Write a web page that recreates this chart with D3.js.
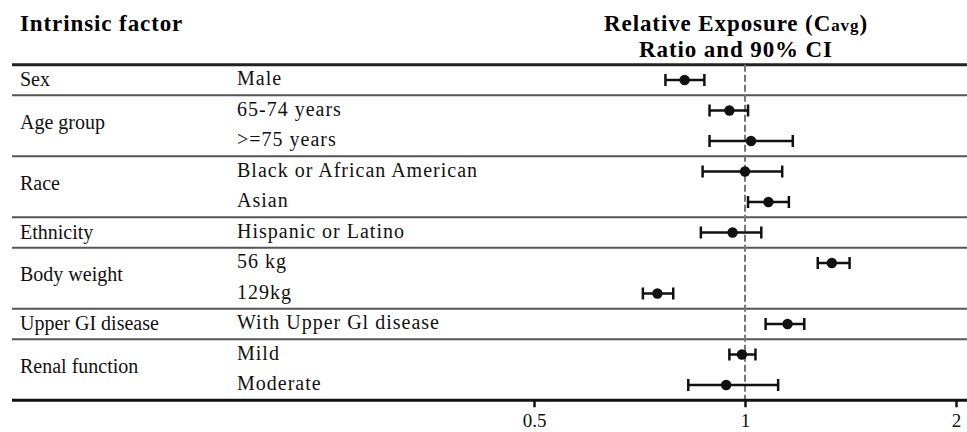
<!DOCTYPE html>
<html>
<head>
<meta charset="utf-8">
<script src="https://cdn.jsdelivr.net/npm/d3@7"></script>
<style>
  body { margin: 0; background: #fff; }
  svg { display: block; font-family: "Liberation Serif", "Times New Roman", serif; }
</style>
</head>
<body>
<svg id="chart" width="967" height="432"></svg>
<script>
// groups and their sub-rows
const groups = ["Sex", "Age group", "Race", "Ethnicity", "Body weight", "Upper GI disease", "Renal function"]
const groupOf = [0, 1, 1, 2, 2, 3, 4, 4, 5, 6, 6]
const subgroups = ["Male", "65-74 years", ">=75 years", "Black or African American", "Asian",
  "Hispanic or Latino", "56 kg", "129kg", "With Upper Gl disease", "Mild", "Moderate"]
// ratio and 90% CI
const ratio = [0.82, 0.95, 1.02, 1.00, 1.08, 0.96, 1.33, 0.75, 1.15, 0.99, 0.94]
const lower = [0.77, 0.89, 0.89, 0.87, 1.01, 0.865, 1.27, 0.715, 1.07, 0.95, 0.83]
const upper = [0.875, 1.01, 1.17, 1.13, 1.155, 1.055, 1.41, 0.79, 1.215, 1.035, 1.115]
const ticks = [0.5, 1, 2]

const svg = d3.select("#chart")

const x = d3.scaleLog().domain([0.5, 2]).range([534, 956])
const y = d3.scaleBand().domain(d3.range(subgroups.length)).range([64.75, 400.25])
const mid = i => y(i) + y.bandwidth() / 2

// header
svg.append("text").attr("x", 20).attr("y", 31)
  .attr("font-weight", "bold").attr("font-size", 23).attr("letter-spacing", 0.9)
  .text("Intrinsic factor")
const h1 = svg.append("text").attr("x", 736).attr("y", 31).attr("text-anchor", "middle")
  .attr("font-weight", "bold").attr("font-size", 23).attr("letter-spacing", 0.9)
h1.append("tspan").text("Relative Exposure (C")
h1.append("tspan").attr("font-size", 17).text("avg")
h1.append("tspan").text(")")
svg.append("text").attr("x", 736).attr("y", 57).attr("text-anchor", "middle")
  .attr("font-weight", "bold").attr("font-size", 23).attr("letter-spacing", 0.9)
  .text("Ratio and 90% CI")

// top rule
svg.append("line").attr("x1", 12).attr("x2", 967).attr("y1", y(0)).attr("y2", y(0))
  .attr("stroke", "#222").attr("stroke-width", 3)

// separators between groups
const seps = d3.range(1, subgroups.length).filter(i => groupOf[i] !== groupOf[i - 1])
svg.selectAll("line.sep").data(seps).enter().append("line")
  .attr("class", "sep")
  .attr("x1", 12).attr("x2", 967)
  .attr("y1", d => y(d)).attr("y2", d => y(d))
  .attr("stroke", "#555").attr("stroke-width", 2.2)

// group labels
svg.selectAll("text.group").data(groups).enter().append("text")
  .attr("class", "group")
  .attr("x", 20)
  .attr("y", (d, g) => {
    const rows = d3.range(subgroups.length).filter(i => groupOf[i] === g)
    return rows.length === 1 ? mid(rows[0]) + 6 : d3.mean(rows, mid) + 3
  })
  .attr("font-size", 20).attr("fill", "#111")
  .text(d => d)

// subgroup labels
svg.selectAll("text.sub").data(subgroups).enter().append("text")
  .attr("class", "sub")
  .attr("x", 237).attr("y", (d, i) => mid(i) + 5)
  .attr("font-size", 20).attr("letter-spacing", 1).attr("fill", "#111")
  .text(d => d)

// reference line at 1
svg.append("line").attr("x1", x(1)).attr("x2", x(1))
  .attr("y1", y(0)).attr("y2", y.range()[1])
  .attr("stroke", "#777").attr("stroke-width", 2).attr("stroke-dasharray", "7,3")

// CI bars
const bars = svg.append("g").selectAll("g").data(subgroups).enter().append("g")
bars.append("line")
  .attr("x1", (d, i) => x(lower[i])).attr("x2", (d, i) => x(upper[i]))
  .attr("y1", (d, i) => mid(i)).attr("y2", (d, i) => mid(i))
  .attr("stroke", "#111").attr("stroke-width", 2.5)
bars.append("line")
  .attr("x1", (d, i) => x(lower[i])).attr("x2", (d, i) => x(lower[i]))
  .attr("y1", (d, i) => mid(i) - 6).attr("y2", (d, i) => mid(i) + 6)
  .attr("stroke", "#111").attr("stroke-width", 2.5)
bars.append("line")
  .attr("x1", (d, i) => x(upper[i])).attr("x2", (d, i) => x(upper[i]))
  .attr("y1", (d, i) => mid(i) - 6).attr("y2", (d, i) => mid(i) + 6)
  .attr("stroke", "#111").attr("stroke-width", 2.5)
bars.append("circle")
  .attr("cx", (d, i) => x(ratio[i])).attr("cy", (d, i) => mid(i))
  .attr("r", 5.2).attr("fill", "#111")

// x axis
const axis = svg.append("g").attr("transform", `translate(0,${y.range()[1]})`)
  .call(d3.axisBottom(x).tickValues(ticks).tickFormat(d3.format("")).tickSize(7).tickPadding(6))
axis.select(".domain").remove()
axis.append("line").attr("x1", 12).attr("x2", 967).attr("stroke", "#111").attr("stroke-width", 3)
axis.selectAll(".tick line").attr("stroke", "#111").attr("stroke-width", 2.5)
axis.selectAll(".tick text").attr("font-family", "Liberation Serif").attr("font-size", 19)
  .attr("fill", "#111")
</script>
</body>
</html>
